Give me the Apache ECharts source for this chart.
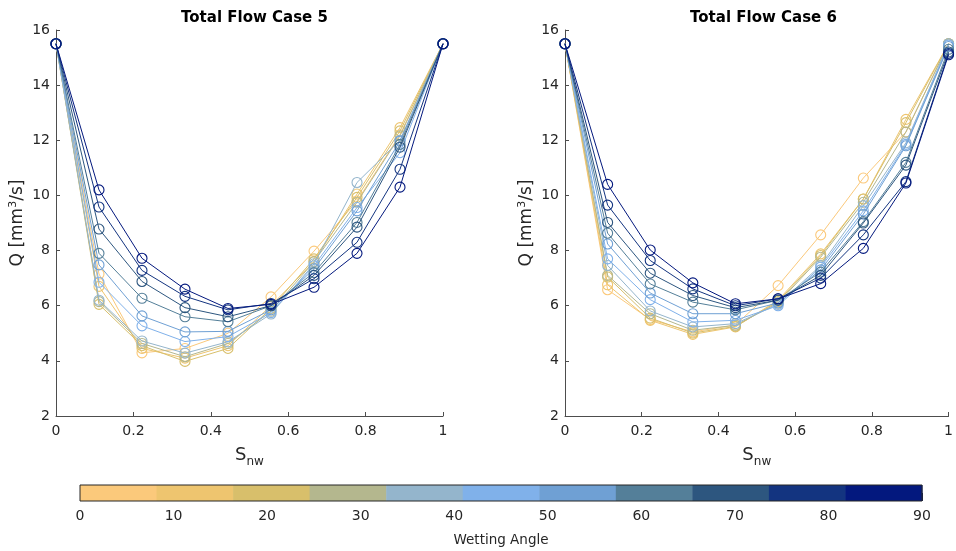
<!DOCTYPE html>
<html>
<head>
<meta charset="utf-8">
<script src="https://cdn.jsdelivr.net/npm/echarts@6/dist/echarts.min.js"></script>
<style>
  html, body { margin: 0; padding: 0; background: #fff; }
  #chart { width: 956px; height: 551px; }
</style>
</head>
<body>
<div id="chart"></div>
<script>
// Non-wetting saturation sample points
const sNw = [0, 0.1111, 0.2222, 0.3333, 0.4444, 0.5556, 0.6667, 0.7778, 0.8889, 1];

// Wetting angles (degrees), one curve per angle
const wettingAngles = [0, 9, 18, 27, 36, 45, 54, 63, 72, 81, 90];

// Total flow Q [mm^3/s], Case 5, rows follow wettingAngles
const case5Q = [
  [15.5, 7.15, 4.29, 4.45, 5.00, 6.32, 7.98, 9.80, 12.20, 15.5],
  [15.5, 6.70, 4.45, 4.10, 4.55, 6.00, 7.60, 10.05, 12.46, 15.5],
  [15.5, 6.05, 4.55, 3.98, 4.45, 5.90, 7.70, 9.93, 12.34, 15.5],
  [15.5, 6.15, 4.63, 4.15, 4.63, 5.80, 7.60, 9.75, 12.16, 15.5],
  [15.5, 6.20, 4.72, 4.28, 4.69, 5.70, 7.52, 10.47, 12.00, 15.5],
  [15.5, 6.85, 5.27, 4.70, 4.88, 5.75, 7.45, 9.56, 11.55, 15.5],
  [15.5, 7.48, 5.63, 5.05, 5.07, 5.85, 7.34, 9.44, 11.97, 15.5],
  [15.5, 7.90, 6.27, 5.60, 5.42, 6.00, 7.20, 9.02, 11.85, 15.5],
  [15.5, 8.78, 6.88, 5.93, 5.60, 6.00, 7.10, 8.85, 11.75, 15.5],
  [15.5, 9.58, 7.28, 6.34, 5.85, 6.08, 6.98, 8.30, 10.95, 15.5],
  [15.5, 10.20, 7.72, 6.60, 5.90, 6.05, 6.67, 7.90, 10.30, 15.5]
];

// Total flow Q [mm^3/s], Case 6, rows follow wettingAngles
const case6Q = [
  [15.5, 6.58, 5.50, 5.05, 5.30, 6.73, 8.57, 10.63, 12.30, 15.5],
  [15.5, 6.76, 5.47, 4.96, 5.23, 6.20, 7.88, 9.87, 12.76, 15.5],
  [15.5, 7.04, 5.55, 5.01, 5.25, 6.15, 7.82, 9.87, 12.64, 15.5],
  [15.5, 7.10, 5.71, 5.11, 5.29, 6.10, 7.76, 9.75, 12.30, 15.5],
  [15.5, 7.46, 5.81, 5.23, 5.35, 6.05, 7.46, 9.63, 11.91, 15.5],
  [15.5, 7.70, 6.22, 5.41, 5.47, 6.00, 7.40, 9.44, 11.85, 15.45],
  [15.5, 8.24, 6.46, 5.71, 5.71, 6.10, 7.30, 9.32, 11.80, 15.4],
  [15.5, 8.63, 6.79, 6.13, 5.85, 6.20, 7.22, 9.05, 11.20, 15.3],
  [15.5, 9.02, 7.18, 6.37, 5.93, 6.20, 7.10, 9.00, 11.10, 15.2],
  [15.5, 9.65, 7.64, 6.61, 6.00, 6.25, 7.00, 8.57, 10.50, 15.15],
  [15.5, 10.40, 8.02, 6.83, 6.07, 6.25, 6.80, 8.08, 10.45, 15.1]
];

// Colormap (one colour per wetting angle bin)
const angleColors = [
  '#fbc97b', '#eec56f', '#d8bf6b', '#b4b78e', '#94b5cc', '#80b1ea',
  '#6fa0d4', '#547f99', '#2d567f', '#133480', '#03187e'
];

// Colorbar range and tick labels
const colorbarMin = 0, colorbarMax = 90;
const colorbarTicks = [0, 10, 20, 30, 40, 50, 60, 70, 80, 90];

const textColor = '#262626';
const axisColor = '#4d4d4d';
const fontFamily = 'DejaVu Sans';

const chart = echarts.init(document.getElementById('chart'), null, { renderer: 'canvas' });

function plotXAxis(gridIndex) {
  return {
    type: 'value', gridIndex, min: 0, max: 1, interval: 0.2,
    name: '{s|S}{sub|nw}', nameLocation: 'middle', nameGap: 28,
    nameTextStyle: {
      rich: {
        s: { fontSize: 18, color: textColor, fontFamily, lineHeight: 22 },
        sub: { fontSize: 12, color: textColor, fontFamily, padding: [13, 0, 0, 0], lineHeight: 22 }
      }
    },
    axisLine: { lineStyle: { color: axisColor, width: 1 } },
    axisTick: { inside: true, length: 4, lineStyle: { color: axisColor } },
    axisLabel: { color: textColor, fontSize: 14, fontFamily, margin: 8 },
    splitLine: { show: false }
  };
}

function plotYAxis(gridIndex) {
  return {
    type: 'value', gridIndex, min: 2, max: 16, interval: 2,
    name: '{t|Q [mm}{sup|3}{t|/s]}', nameLocation: 'middle', nameGap: 25, nameRotate: 90,
    nameTextStyle: {
      rich: {
        t: { fontSize: 17, color: textColor, fontFamily, lineHeight: 22 },
        sup: { fontSize: 11, color: textColor, fontFamily, padding: [0, 0, 10, 0], lineHeight: 22 }
      }
    },
    axisLine: { show: true, lineStyle: { color: axisColor, width: 1 } },
    axisTick: { show: true, inside: true, length: 4, lineStyle: { color: axisColor } },
    axisLabel: { color: textColor, fontSize: 14, fontFamily, margin: 6 },
    splitLine: { show: false }
  };
}

function curveSeries(rows, axisIndex) {
  return rows.map((row, i) => ({
    type: 'line',
    name: String(wettingAngles[i]),
    xAxisIndex: axisIndex, yAxisIndex: axisIndex,
    data: row.map((q, k) => [sNw[k], q]),
    symbol: 'circle', symbolSize: 10,
    showSymbol: true,
    lineStyle: { color: angleColors[i], width: 1 },
    itemStyle: { color: 'rgba(0,0,0,0)', borderColor: angleColors[i], borderWidth: 1.1 },
    emphasis: { disabled: true },
    animation: false,
    z: 2 + i
  }));
}

// Colorbar bins: equal-width segments over the angle range
const binWidth = (colorbarMax - colorbarMin) / angleColors.length;
const colorbarBins = angleColors.map((c, i) => [colorbarMin + i * binWidth, colorbarMin + (i + 1) * binWidth, i]);

const colorbarSeries = {
  type: 'custom', xAxisIndex: 2, yAxisIndex: 2,
  data: colorbarBins,
  renderItem: function (params, api) {
    const p0 = api.coord([api.value(0), 1]);
    const p1 = api.coord([api.value(1), 0]);
    return {
      type: 'rect',
      shape: { x: p0[0], y: p0[1], width: p1[0] - p0[0] + 0.5, height: p1[1] - p0[1] },
      style: { fill: angleColors[api.value(2)] }
    };
  },
  animation: false,
  silent: true,
  z: 1
};

const option = {
  backgroundColor: '#ffffff',
  animation: false,
  title: [
    { text: 'Total Flow Case 5', left: 249.5, top: 6, textAlign: 'center',
      textStyle: { fontSize: 15, fontWeight: 'bold', color: '#000', fontFamily } },
    { text: 'Total Flow Case 6', left: 758.5, top: 6, textAlign: 'center',
      textStyle: { fontSize: 15, fontWeight: 'bold', color: '#000', fontFamily } }
  ],
  grid: [
    { left: 56, top: 30, width: 387, height: 386 },
    { left: 565, top: 30, width: 387, height: 386 },
    { left: 80, top: 485, width: 842, height: 16, show: true, borderColor: '#262626', borderWidth: 1, backgroundColor: 'transparent', z: 5 }
  ],
  xAxis: [
    plotXAxis(0),
    plotXAxis(1),
    {
      type: 'value', gridIndex: 2, min: colorbarMin, max: colorbarMax,
      name: 'Wetting Angle', nameLocation: 'middle', nameGap: 32,
      nameTextStyle: { color: textColor, fontSize: 13.5, fontFamily },
      axisLine: { show: false },
      axisTick: { show: true, inside: true, length: 8, lineStyle: { color: '#262626' }, customValues: colorbarTicks },
      axisLabel: { color: textColor, fontSize: 14, fontFamily, margin: 8, customValues: colorbarTicks },
      splitLine: { show: false }
    }
  ],
  yAxis: [
    plotYAxis(0),
    plotYAxis(1),
    { type: 'value', gridIndex: 2, min: 0, max: 1, show: false }
  ],
  series: [
    ...curveSeries(case5Q, 0),
    ...curveSeries(case6Q, 1),
    colorbarSeries
  ]
};

chart.setOption(option);
</script>
</body>
</html>
